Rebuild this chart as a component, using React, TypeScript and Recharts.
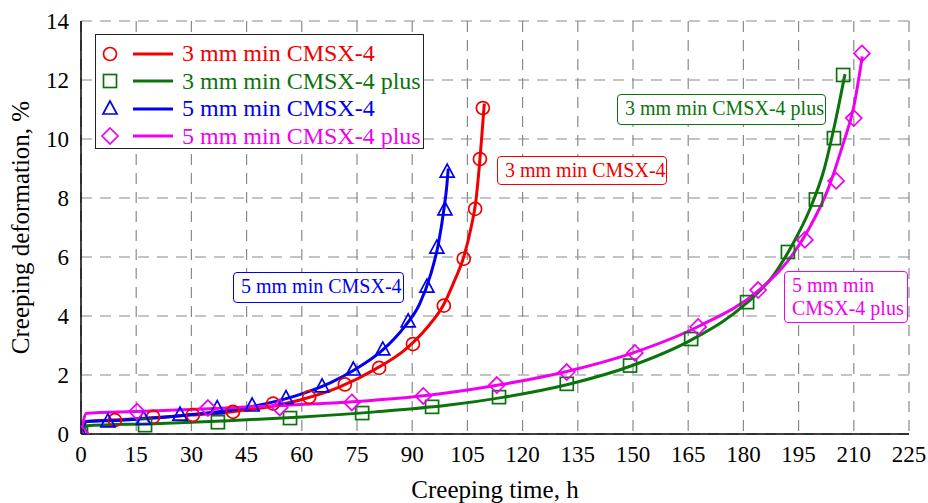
import { CartesianGrid, ComposedChart, Label, Line, Scatter, XAxis, YAxis } from "recharts";

// measured points (markers) and fitted curves, [time h, deformation %]
const redMarks = [[0, 0], [9.2, 0.47], [19.6, 0.58], [30.4, 0.64], [41.3, 0.75], [52.2, 1.03], [62, 1.25], [71.7, 1.68], [81, 2.24], [90.2, 3.05], [98.6, 4.35], [104, 5.94], [107.1, 7.63], [108.4, 9.32], [109.2, 11.05]];
const greenMarks = [[0, 0], [17.4, 0.3], [37.2, 0.4], [56.8, 0.54], [76.4, 0.71], [95.4, 0.92], [113.6, 1.25], [132, 1.7], [149.2, 2.32], [165.8, 3.22], [181, 4.47], [192.1, 6.17], [199.7, 7.95], [204.6, 10.03], [207.1, 12.17]];
const blueMarks = [[0, 0], [7.3, 0.41], [17, 0.5], [26.9, 0.64], [37, 0.86], [46.5, 0.95], [55.7, 1.2], [65.5, 1.6], [74, 2.17], [82, 2.85], [88.9, 3.8], [94, 4.98], [96.7, 6.3], [98.9, 7.6], [99.5, 8.88]];
const magentaMarks = [[0, 0], [15.2, 0.76], [34.5, 0.88], [54, 0.9], [73.6, 1.07], [93, 1.29], [113, 1.66], [132, 2.1], [150.5, 2.75], [167.7, 3.63], [184, 4.88], [196.7, 6.58], [205.2, 8.58], [210, 10.71], [212.2, 12.9]];

const redCurve = [[0, 0], [1.5, 0.42], [10, 0.48], [20, 0.56], [30, 0.64], [40, 0.74], [50, 0.9], [60, 1.17], [70, 1.58], [80, 2.2], [88, 2.85], [94, 3.6], [98.6, 4.4], [101.5, 5.2], [104, 6.0], [106, 7.0], [107.3, 7.9], [108.4, 9.3], [109.1, 10.4], [109.6, 11.2]];
const greenCurve = [[0, 0], [1.5, 0.28], [20, 0.35], [40, 0.45], [60, 0.58], [80, 0.75], [100, 0.98], [115, 1.25], [132, 1.67], [150, 2.33], [166, 3.2], [181, 4.45], [188, 5.35], [193, 6.35], [198, 7.6], [202, 9.0], [205, 10.6], [207.6, 12.2]];
const blueCurve = [[0, 0], [1.5, 0.42], [10, 0.46], [20, 0.54], [30, 0.66], [40, 0.8], [50, 1.02], [60, 1.36], [68, 1.75], [74, 2.15], [82, 2.85], [88, 3.65], [92, 4.4], [95, 5.4], [97.2, 6.5], [98.6, 7.6], [99.4, 8.4], [99.8, 9.0]];
const magentaCurve = [[0, 0], [1.5, 0.7], [15, 0.76], [35, 0.86], [55, 0.97], [75, 1.1], [95, 1.32], [113, 1.65], [132, 2.12], [150, 2.75], [168, 3.66], [184, 4.85], [192, 5.85], [198, 7.0], [203, 8.3], [207, 9.8], [210, 11.1], [212.3, 12.8]];

const xTicks = [0, 15, 30, 45, 60, 75, 90, 105, 120, 135, 150, 165, 180, 195, 210, 225];
const yTicks = [0, 2, 4, 6, 8, 10, 12, 14];

const FONT = "Liberation Serif, DejaVu Serif, Noto Serif, serif";
const RED = "#f00000";
const GREEN = "#0b730b";
const BLUE = "#0000ee";
const MAGENTA = "#f000f0";

const toPts = (arr: number[][]) => arr.map(([x, y]) => ({ x, y }));

type MarkerKind = "circle" | "square" | "triangle" | "diamond";

const drawMarker = (kind: MarkerKind, cx: number, cy: number, color: string) => {
  const common = { fill: "none", stroke: color, strokeWidth: 1.7 };
  if (kind === "circle") return <circle cx={cx} cy={cy} r={6.5} {...common} />;
  if (kind === "square") return <rect x={cx - 6.5} y={cy - 6.5} width={13} height={13} {...common} />;
  if (kind === "triangle")
    return <polygon points={`${cx},${cy - 8} ${cx - 7},${cy + 5} ${cx + 7},${cy + 5}`} {...common} />;
  return <polygon points={`${cx},${cy - 8} ${cx + 8},${cy} ${cx},${cy + 8} ${cx - 8},${cy}`} {...common} />;
};

const markerShape = (kind: MarkerKind, color: string) => (props: any) =>
  drawMarker(kind, Number(props.cx), Number(props.cy), color);

const series = [
  { name: "3 mm min CMSX-4", color: RED, kind: "circle" as MarkerKind, marks: redMarks, curve: redCurve },
  { name: "3 mm min CMSX-4 plus", color: GREEN, kind: "square" as MarkerKind, marks: greenMarks, curve: greenCurve },
  { name: "5 mm min CMSX-4", color: BLUE, kind: "triangle" as MarkerKind, marks: blueMarks, curve: blueCurve },
  { name: "5 mm min CMSX-4 plus", color: MAGENTA, kind: "diamond" as MarkerKind, marks: magentaMarks, curve: magentaCurve },
];

const boxStyle = (color: string, left: number, top: number, w: number, h: number): React.CSSProperties => ({
  position: "absolute",
  left,
  top,
  width: w,
  height: h,
  boxSizing: "border-box",
  border: `1.5px solid ${color}`,
  borderRadius: 4,
  background: "#fff",
  color,
  fontFamily: FONT,
  fontSize: 20,
  lineHeight: "23px",
  padding: "2px 7px",
  whiteSpace: "nowrap",
});

export default function App() {
  return (
    <div style={{ position: "relative", width: 928, height: 503, background: "#fff", fontFamily: FONT }}>
      <style>{"body{margin:0}"}</style>
      <ComposedChart width={928} height={503} margin={{ top: 21, right: 19, bottom: 0, left: 0 }} style={{ fontFamily: FONT }}>
        <CartesianGrid stroke="#8a8a8a" strokeDasharray="11 8" strokeWidth={1.2} />
        <XAxis
          dataKey="x"
          type="number"
          domain={[0, 225]}
          ticks={xTicks}
          height={69}
          axisLine={{ stroke: "#000", strokeWidth: 1.5 }}
          tickLine={false}
          tickSize={0}
          tickMargin={12}
          tick={{ fill: "#000", fontSize: 23, fontFamily: FONT }}
          allowDataOverflow
        >
          <Label value="Creeping time, h" position="insideBottom" offset={5} style={{ fill: "#000", fontSize: 25, fontFamily: FONT }} />
        </XAxis>
        <XAxis xAxisId="top" orientation="top" type="number" domain={[0, 225]} height={0} tick={false} tickLine={false} axisLine={{ stroke: "#000", strokeWidth: 1.5 }} />
        <YAxis
          dataKey="y"
          type="number"
          domain={[0, 14]}
          ticks={yTicks}
          width={81}
          axisLine={{ stroke: "#000", strokeWidth: 1.5 }}
          tickLine={false}
          tickSize={0}
          tickMargin={12}
          tick={{ fill: "#000", fontSize: 23, fontFamily: FONT }}
          allowDataOverflow
        >
          <Label
            value="Creeping deformation, %"
            angle={-90}
            position="insideLeft"
            offset={20}
            style={{ fill: "#000", fontSize: 25, fontFamily: FONT, textAnchor: "middle" }}
          />
        </YAxis>
        <YAxis yAxisId="right" orientation="right" type="number" domain={[0, 14]} width={0} tick={false} tickLine={false} axisLine={{ stroke: "#000", strokeWidth: 1.5 }} />
        {series.map((s) => (
          <Scatter
            key={`m-${s.name}`}
            name={s.name}
            data={toPts(s.marks)}
            dataKey="y"
            shape={markerShape(s.kind, s.color)}
            isAnimationActive={false}
          />
        ))}
        {series.map((s) => (
          <Line
            key={`c-${s.name}`}
            data={toPts(s.curve)}
            dataKey="y"
            type="monotone"
            stroke={s.color}
            strokeWidth={3}
            dot={false}
            activeDot={false}
            isAnimationActive={false}
          />
        ))}
      </ComposedChart>

      {/* legend */}
      <div
        style={{
          position: "absolute",
          left: 95,
          top: 34,
          width: 329,
          height: 115,
          boxSizing: "border-box",
          border: "1.5px solid #222",
          background: "#fff",
          paddingTop: 5,
        }}
      >
        {series.map((s) => (
          <div key={s.name} style={{ display: "flex", alignItems: "center", height: 27.5 }}>
            <svg width={86} height={28} style={{ flex: "none" }}>
              {drawMarker(s.kind, 14, 14, s.color)}
              <line x1={37} x2={77} y1={14} y2={14} stroke={s.color} strokeWidth={3} />
            </svg>
            <span style={{ color: s.color, fontFamily: FONT, fontSize: 24, lineHeight: "27px", whiteSpace: "nowrap" }}>{s.name}</span>
          </div>
        ))}
      </div>

      {/* curve annotations */}
      <div style={boxStyle(RED, 497, 156, 170, 29)}>3 mm min CMSX-4</div>
      <div style={boxStyle(GREEN, 617, 94, 209, 31)}>3 mm min CMSX-4 plus</div>
      <div style={boxStyle(BLUE, 233, 272, 171, 31)}>5 mm min CMSX-4</div>
      <div style={{ ...boxStyle(MAGENTA, 784, 271, 124, 52), lineHeight: "23px" }}>
        5 mm min
        <br />
        CMSX-4 plus
      </div>
    </div>
  );
}
